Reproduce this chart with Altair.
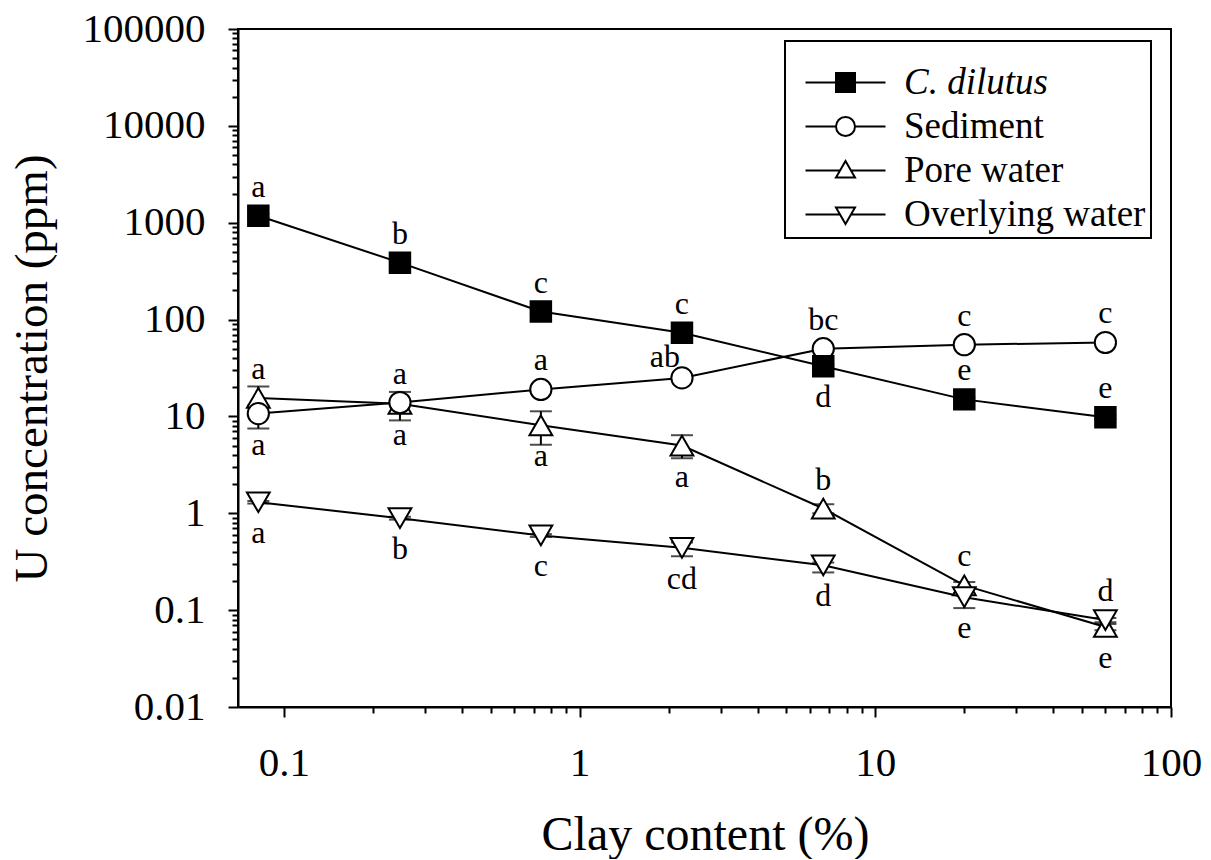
import altair as alt
import pandas as pd

# ---------------- data ----------------
clay = [0.082, 0.247, 0.74, 2.22, 6.67, 20, 60]
series_names = ["C. dilutus", "Sediment", "Pore water", "Overlying water"]

dilutus_mean = [1180, 387, 121, 73, 33, 15, 9.8]
dilutus_lo = [1130, 370, 116, 70, 31.5, 14.4, 9.4]
dilutus_hi = [1230, 404, 126, 76, 34.5, 15.6, 10.2]
dilutus_letters = ["a", "b", "c", "c", "d", "e", "e"]
dilutus_side = ["above", "above", "above", "above", "below", "above", "above"]

sediment_mean = [10.7, 13.9, 19, 25, 50, 55, 58]
sediment_lo = [7.5, 13.2, 18, 24, 48, 53, 56]
sediment_hi = [13.0, 14.6, 20, 26, 52, 57, 60]
sediment_letters = ["a", "a", "a", "ab", "bc", "c", "c"]
sediment_side = ["below", "above", "above", "above_left", "above", "above", "above"]

pore_mean = [15.5, 13.5, 8.1, 5.0, 1.12, 0.18, 0.067]
pore_lo = [10.6, 9.1, 5.1, 3.7, 1.0, 0.165, 0.062]
pore_hi = [20.4, 17.9, 11.3, 6.4, 1.24, 0.195, 0.072]
pore_letters = ["a", "a", "a", "a", "b", "c", "e"]
pore_side = ["above", "below", "below", "below", "above", "above", "below"]

over_mean = [1.3, 0.89, 0.59, 0.44, 0.29, 0.136, 0.079]
over_lo = [1.26, 0.86, 0.57, 0.36, 0.245, 0.105, 0.075]
over_hi = [1.34, 0.92, 0.61, 0.50, 0.31, 0.15, 0.083]
over_letters = ["a", "b", "c", "cd", "d", "e", "d"]
over_side = ["below", "below", "below", "below", "below", "below", "above"]

x_ticks = [m * 10.0 ** k for k in range(-1, 2) for m in range(1, 10)] + [100]
y_ticks = [m * 10.0 ** k for k in range(-2, 5) for m in range(1, 10)] + [100000]

# ---------------- table ----------------
rows = []
blocks = [
    ("C. dilutus", dilutus_mean, dilutus_lo, dilutus_hi, dilutus_letters, dilutus_side),
    ("Sediment", sediment_mean, sediment_lo, sediment_hi, sediment_letters, sediment_side),
    ("Pore water", pore_mean, pore_lo, pore_hi, pore_letters, pore_side),
    ("Overlying water", over_mean, over_lo, over_hi, over_letters, over_side),
]
for name, m, lo, hi, let, side in blocks:
    for i in range(len(clay)):
        rows.append(dict(series=name, clay=clay[i], value=m[i], lo=lo[i], hi=hi[i],
                         letter=let[i], side=side[i]))
df = pd.DataFrame(rows)

FONT = "Liberation Serif"
MAJOR = "abs(log(datum.value)/LN10 - round(log(datum.value)/LN10)) < 0.001"

xscale = alt.Scale(type="log", domain=[0.07, 100], nice=False)
yscale = alt.Scale(type="log", domain=[0.01, 100000], nice=False)

x_axis = alt.Axis(
    values=x_ticks, labelExpr=f"{MAJOR} ? format(datum.value, '~g') : ''",
    tickSize={"condition": {"test": MAJOR, "value": 10}, "value": 6},
    tickWidth=2, tickColor="black", domainColor="black", domainWidth=2,
    labelFont=FONT, labelFontSize=41, labelColor="black", labelPadding=58,
    labelBaseline="alphabetic", labelOverlap=False, labelFlush=False, grid=False,
    title="Clay content (%)", titleFont=FONT, titleFontSize=48, titleFontWeight="normal",
    titleColor="black", titleX=467, titleY=142, titleBaseline="alphabetic",
)
y_axis = alt.Axis(
    values=y_ticks, labelExpr=f"{MAJOR} ? format(datum.value, '~g') : ''",
    tickSize={"condition": {"test": MAJOR, "value": 10}, "value": 6},
    tickWidth=2, tickColor="black", domainColor="black", domainWidth=2,
    labelFont=FONT, labelFontSize=41, labelColor="black", labelPadding=23,
    labelOverlap=False, labelFlush=False, grid=False,
    title="U concentration (ppm)", titleFont=FONT, titleFontSize=47, titleFontWeight="normal",
    titleColor="black", titleX=-192, titleY=339, titleAngle=270, titleBaseline="alphabetic",
    titleAlign="center",
)

base = alt.Chart(df)
X = alt.X("clay:Q", scale=xscale, axis=x_axis)
Y = alt.Y("value:Q", scale=yscale, axis=y_axis)

lines = base.mark_line(color="black", strokeWidth=2).encode(
    x=X, y=Y, detail="series:N", order="clay:Q")

err_rule = base.mark_rule(color="black", strokeWidth=2).encode(
    x="clay:Q", y="lo:Q", y2="hi:Q")
cap_lo = base.mark_tick(color="black", thickness=2, size=22, orient="horizontal").encode(
    x="clay:Q", y="lo:Q")
cap_hi = base.mark_tick(color="black", thickness=2, size=22, orient="horizontal").encode(
    x="clay:Q", y="hi:Q")

marker_style = {
    "Pore water": dict(shape="triangle-up", fill="white", size=520),
    "Overlying water": dict(shape="triangle-down", fill="white", size=520),
    "Sediment": dict(shape="circle", fill="white", size=450),
    "C. dilutus": dict(shape="square", fill="black", size=420),
}
point_layers = []
for name in ["Pore water", "Overlying water", "Sediment", "C. dilutus"]:
    st = marker_style[name]
    point_layers.append(
        base.transform_filter(alt.datum.series == name).mark_point(
            shape=st["shape"], filled=True, fill=st["fill"], stroke="black",
            strokeWidth=2, size=st["size"], opacity=1,
        ).encode(x="clay:Q", y="value:Q")
    )

txt = dict(font=FONT, fontSize=32, color="black", baseline="alphabetic", align="center")
t_above = base.transform_filter(alt.datum.side == "above").mark_text(dy=-19, **txt).encode(
    x="clay:Q", y="value:Q", text="letter:N")
t_below = base.transform_filter(alt.datum.side == "below").mark_text(dy=41, **txt).encode(
    x="clay:Q", y="value:Q", text="letter:N")
t_aleft = base.transform_filter(alt.datum.side == "above_left").mark_text(dx=-17, dy=-11, **txt).encode(
    x="clay:Q", y="value:Q", text="letter:N")

# legend (line + marker symbols)
legend_paths = [
    "M-4,0H-0.95M0.95,0H4M-0.95,-0.95H0.95V0.95H-0.95Z",
    "M-4,0H-0.95M0.95,0H4M-0.95,0A0.95,0.95,0,1,0,0.95,0A0.95,0.95,0,1,0,-0.95,0Z",
    "M-4,0H-0.6M0.6,0H4M0,-0.95L0.95,0.7L-0.95,0.7Z",
    "M-4,0H-0.6M0.6,0H4M0,0.95L0.95,-0.7L-0.95,-0.7Z",
]
legend_fills = ["black", "white", "white", "white"]
legend_strokes = ["black", "black", "black", "black"]
leg = alt.Legend(
    title=" ", titleFontSize=10, titlePadding=8, orient="none", legendX=547, legendY=12,
    padding=5,
    labelFont=FONT, labelFontSize=37, labelColor="black", labelLimit=400,
    labelFontStyle=alt.ExprRef("datum.label == 'C. dilutus' ? 'italic' : 'normal'"),
    symbolSize=400, symbolStrokeWidth=2, symbolStrokeColor="black",
    symbolOffset=37, labelOffset=40, rowPadding=6,
    strokeColor="black", fillColor="white",
)
legend_layer = base.transform_filter("datum.value < 0").mark_point(
    filled=True, strokeWidth=2, opacity=1
).encode(
    x="clay:Q", y="value:Q",
    shape=alt.Shape("series:N", scale=alt.Scale(domain=series_names, range=legend_paths), legend=leg),
    fill=alt.Fill("series:N", scale=alt.Scale(domain=series_names, range=legend_fills), legend=leg),
    stroke=alt.Stroke("series:N", scale=alt.Scale(domain=series_names, range=legend_strokes), legend=leg),
)

chart = alt.layer(
    lines, err_rule, cap_lo, cap_hi, *point_layers, t_above, t_below, t_aleft, legend_layer
).properties(
    width=933, height=678,
    autosize=alt.AutoSizeParams(type="none"),
    padding={"left": 230, "top": 21, "right": 32, "bottom": 152},
    background="white",
).configure_view(
    stroke="black", strokeWidth=2
).configure_legend(
    strokeWidth=2
)

chart.save("out.html", embed_options={"renderer": "svg", "actions": False})
